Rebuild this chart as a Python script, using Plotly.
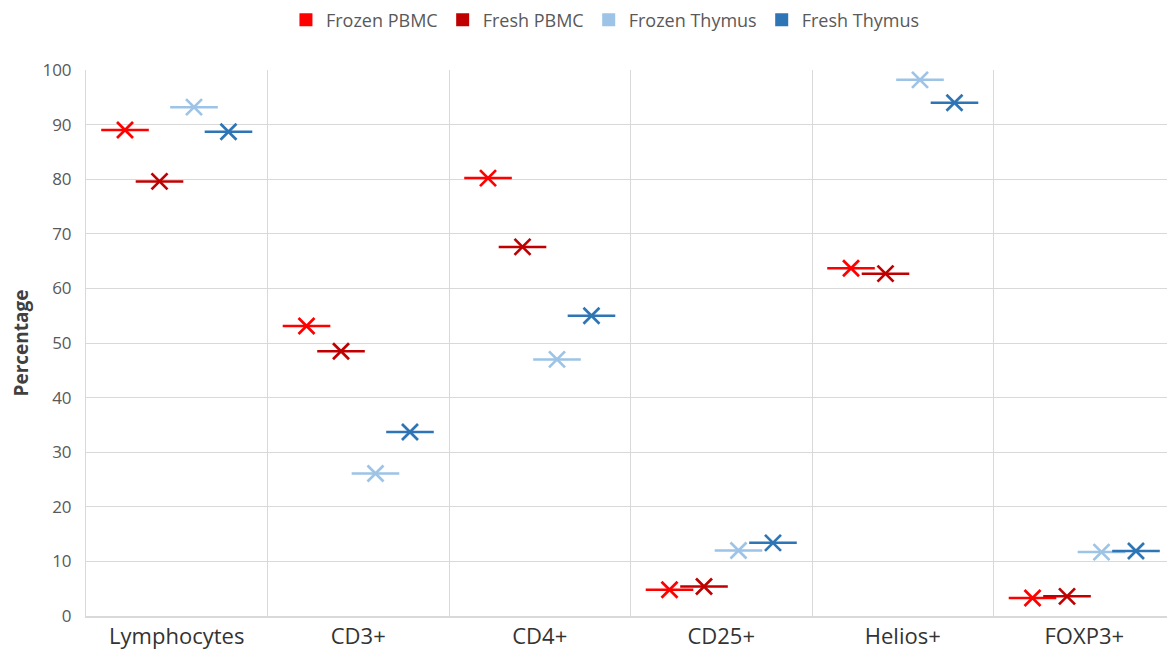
import plotly.graph_objects as go

categories = ["Lymphocytes", "CD3+", "CD4+", "CD25+", "Helios+", "FOXP3+"]
series_names = ["Frozen PBMC", "Fresh PBMC", "Frozen Thymus", "Fresh Thymus"]
frozen_pbmc = [89.0, 53.1, 80.2, 4.8, 63.7, 3.3]
fresh_pbmc = [79.6, 48.5, 67.6, 5.4, 62.7, 3.6]
frozen_thymus = [93.2, 26.1, 47.0, 12.0, 98.2, 11.7]
fresh_thymus = [88.7, 33.7, 55.0, 13.4, 94.0, 11.9]
colors = ["#FF0000", "#C00000", "#9DC3E6", "#2E75B6"]

values = [frozen_pbmc, fresh_pbmc, frozen_thymus, fresh_thymus]

fig = go.Figure()
for name, vals, col in zip(series_names, values, colors):
    # legend-only square
    fig.add_trace(go.Scatter(
        x=[categories[0]], y=[None], mode="markers", name=name,
        marker=dict(symbol="square", size=13, color=col),
        offsetgroup=name, legendgroup=name, showlegend=True, hoverinfo="skip"))
    fig.add_trace(go.Scatter(
        x=categories, y=vals, mode="markers", name=name,
        marker=dict(symbol="line-ew-open", size=34, color=col, line=dict(color=col, width=2.5)),
        offsetgroup=name, legendgroup=name, showlegend=False))
    fig.add_trace(go.Scatter(
        x=categories, y=vals, mode="markers", name=name,
        marker=dict(symbol="x-thin-open", size=16, color=col, line=dict(color=col, width=2.7)),
        offsetgroup=name, legendgroup=name, showlegend=False))

fig.update_layout(
    width=1167, height=649,
    margin=dict(l=78, r=0, t=62, b=41),
    paper_bgcolor="white", plot_bgcolor="white",
    scattermode="group", scattergap=0.24,
    font=dict(family="Open Sans, Lato, sans-serif", color="#595959"),
    legend=dict(orientation="h", x=0.477, xanchor="center", y=0.9815, yanchor="middle",
                yref="container", font=dict(size=18, color="#595959"),
                itemwidth=30, tracegroupgap=0),
    showlegend=True,
)
fig.update_xaxes(
    type="category", tickson="boundaries", showgrid=True, gridcolor="#D9D9D9", gridwidth=1,
    showline=True, linecolor="#D9D9D9", linewidth=1.5, ticks="",
    tickfont=dict(size=22, color="#333333"), range=[-0.5, 5.5])
fig.update_yaxes(
    range=[0, 100], dtick=10, showgrid=True, gridcolor="#D9D9D9", gridwidth=1,
    showline=True, linecolor="#D9D9D9", linewidth=1, zeroline=False,
    tickfont=dict(size=17, color="#595959"), ticks="", ticklabelstandoff=10,
    title=dict(text="<b>Percentage</b>", font=dict(size=19, color="#404040"), standoff=14))

fig.write_html("out.html")
